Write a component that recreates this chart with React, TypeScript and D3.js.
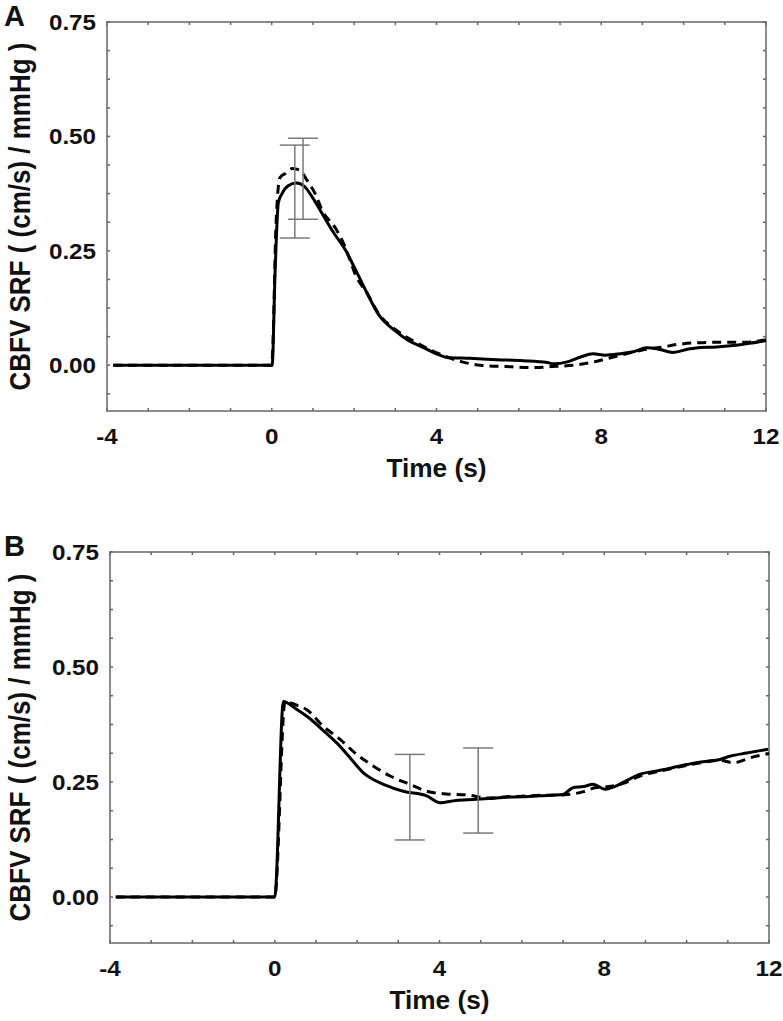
import React from "react";
import * as d3 from "d3";

// ---------- Data ----------
const xTickValues = [-4, 0, 4, 8, 12];
const yTickValues = [0.0, 0.25, 0.5, 0.75];
const yTickLabels = ["0.00", "0.25", "0.50", "0.75"];
const xTitle = "Time (s)";
const yTitle = "CBFV SRF ( (cm/s) / mmHg )";
const panelLetters = ["A", "B"];

// Panel A
const tA_solid = [-3.85, 0.0, 0.01, 0.08, 0.16, 0.25, 0.4, 0.6, 0.8, 1.0, 1.2, 1.5, 1.8, 2.0, 2.3, 2.6, 3.0, 3.3, 3.67, 4.0, 4.25, 4.8, 5.47, 6.1, 6.69, 6.83, 7.2, 7.5, 7.8, 8.1, 8.45, 8.8, 9.1, 9.4, 9.74, 10.1, 10.4, 10.8, 11.2, 11.6, 12.0];
const vA_solid = [0, 0, 0.0, 0.2, 0.355, 0.375, 0.392, 0.398, 0.39, 0.365, 0.335, 0.29, 0.25, 0.215, 0.16, 0.11, 0.075, 0.055, 0.039, 0.025, 0.017, 0.015, 0.012, 0.01, 0.006, 0.003, 0.008, 0.018, 0.025, 0.022, 0.025, 0.03, 0.038, 0.035, 0.028, 0.035, 0.039, 0.04, 0.043, 0.048, 0.054];
const tA_dash = [-3.85, 0.0, 0.03, 0.1, 0.2, 0.35, 0.5, 0.7, 0.85, 1.07, 1.22, 1.53, 1.74, 1.9, 2.02, 2.3, 2.6, 3.0, 3.3, 3.6, 4.2, 4.6, 5.06, 5.7, 6.35, 6.8, 7.3, 7.7, 8.3, 9.0, 9.5, 9.9, 10.7, 11.5, 12.0];
const vA_dash = [0, 0, 0.05, 0.3, 0.41, 0.42, 0.43, 0.425, 0.405, 0.372, 0.339, 0.302, 0.267, 0.23, 0.2, 0.16, 0.112, 0.078, 0.06, 0.045, 0.02, 0.008, 0.0, -0.003, -0.005, -0.003, 0.0, 0.005, 0.018, 0.033, 0.04, 0.046, 0.05, 0.05, 0.056];
const errA_t = [0.56, 0.76];
const errA_lo = [0.278, 0.319];
const errA_hi = [0.481, 0.496];

// Panel B
const tB_solid = [-3.86, 0.0, 0.21, 0.5, 0.78, 1.2, 1.58, 1.9, 2.15, 2.4, 2.64, 3.12, 3.69, 4.01, 4.4, 4.82, 5.2, 5.63, 6.0, 6.44, 7.0, 7.25, 7.5, 7.73, 8.02, 8.25, 8.46, 8.87, 9.27, 9.6, 9.84, 10.24, 10.5, 10.81, 11.05, 11.46, 11.98];
const vB_solid = [0, 0, 0.425, 0.41, 0.393, 0.36, 0.328, 0.295, 0.27, 0.255, 0.245, 0.23, 0.22, 0.205, 0.21, 0.212, 0.214, 0.217, 0.218, 0.22, 0.223, 0.238, 0.24, 0.245, 0.234, 0.24, 0.249, 0.267, 0.274, 0.28, 0.285, 0.292, 0.295, 0.299, 0.306, 0.313, 0.321];
const tB_dash = [-3.86, 0.0, 0.25, 0.5, 0.78, 1.18, 1.58, 1.99, 2.39, 2.8, 3.28, 3.69, 4.17, 4.66, 5.2, 5.63, 6.0, 6.44, 7.0, 7.5, 7.8, 8.1, 8.46, 8.87, 9.27, 9.84, 10.24, 10.81, 11.13, 11.6, 12.0];
const vB_dash = [0, 0, 0.425, 0.418, 0.407, 0.371, 0.343, 0.31, 0.285, 0.263, 0.245, 0.23, 0.224, 0.222, 0.215, 0.218, 0.219, 0.221, 0.222, 0.229, 0.238, 0.24, 0.247, 0.263, 0.272, 0.283, 0.29, 0.297, 0.292, 0.304, 0.312];
const errB_t = [3.28, 4.94];
const errB_lo = [0.124, 0.139];
const errB_hi = [0.31, 0.324];

const xDomain = [-4, 12];
const yDomain = [-0.1, 0.75];

const FONT = "'Liberation Sans', Arial, Helvetica, sans-serif";

type PanelProps = {
  letter: string;
  left: number;
  right: number;
  top: number;
  bottom: number;
  tSolid: number[];
  vSolid: number[];
  tDash: number[];
  vDash: number[];
  eT: number[];
  eLo: number[];
  eHi: number[];
};

function Panel(p: PanelProps) {
  const x = d3.scaleLinear().domain(xDomain).range([p.left, p.right]);
  const y = d3.scaleLinear().domain(yDomain).range([p.bottom, p.top]);
  const line = d3
    .line<[number, number]>()
    .x((d) => x(d[0]))
    .y((d) => y(d[1]))
    .curve(d3.curveMonotoneX);
  const solid = line(p.tSolid.map((t, i) => [t, p.vSolid[i]] as [number, number])) || "";
  const dash = line(p.tDash.map((t, i) => [t, p.vDash[i]] as [number, number])) || "";

  const xMinor = d3.range(-4, 12.001, 1);
  const yMinor = d3.range(0.75, -0.1, -0.0625);
  const tl = 3;
  const tickColor = "#666";
  const midY = (p.top + p.bottom) / 2;
  const midX = (p.left + p.right) / 2;

  return (
    <g>
      <text x={4} y={p.top + 4} fontFamily={FONT} fontWeight="bold" fontSize={29} fill="#111">
        {p.letter}
      </text>
      {/* frame */}
      <rect
        x={p.left}
        y={p.top}
        width={p.right - p.left}
        height={p.bottom - p.top}
        fill="none"
        stroke="#8c8c8c"
        strokeWidth={2}
      />
      {/* ticks */}
      {xMinor.map((t, i) => (
        <g key={"xt" + i}>
          <line x1={x(t)} x2={x(t)} y1={p.bottom} y2={p.bottom - tl} stroke={tickColor} strokeWidth={1.5} />
          <line x1={x(t)} x2={x(t)} y1={p.top} y2={p.top + tl} stroke={tickColor} strokeWidth={1.5} />
        </g>
      ))}
      {yMinor.map((v, i) => (
        <g key={"yt" + i}>
          <line x1={p.left} x2={p.left + tl} y1={y(v)} y2={y(v)} stroke={tickColor} strokeWidth={1.5} />
          <line x1={p.right} x2={p.right - tl} y1={y(v)} y2={y(v)} stroke={tickColor} strokeWidth={1.5} />
        </g>
      ))}
      {/* tick labels */}
      {xTickValues.map((t, i) => (
        <g key={"xl" + i} transform={`translate(${x(t)},${p.bottom + 33}) scale(1.1,1)`}>
          <text textAnchor="middle" fontFamily={FONT} fontWeight="bold" fontSize={22} fill="#111">
            {String(t)}
          </text>
        </g>
      ))}
      {yTickValues.map((v, i) => (
        <g key={"yl" + i} transform={`translate(${p.left - 11},${y(v) + 8}) scale(1.1,1)`}>
          <text textAnchor="end" fontFamily={FONT} fontWeight="bold" fontSize={22} fill="#111">
            {yTickLabels[i]}
          </text>
        </g>
      ))}
      {/* axis titles */}
      <g transform={`translate(${midX},${p.bottom + 66}) scale(1.05,1)`}>
        <text textAnchor="middle" fontFamily={FONT} fontWeight="bold" fontSize={25} fill="#111">
          {xTitle}
        </text>
      </g>
      <g transform={`translate(30,${midY}) scale(1.15,1) rotate(-90)`}>
        <text textAnchor="middle" fontFamily={FONT} fontWeight="bold" fontSize={26} fill="#111">
          {yTitle}
        </text>
      </g>
      {/* curves */}
      <path d={solid} fill="none" stroke="#000" strokeWidth={3} strokeLinejoin="round" />
      <path d={dash} fill="none" stroke="#000" strokeWidth={3} strokeDasharray="9,6" />
      {/* error bars */}
      {p.eT.map((t, i) => (
        <g key={"eb" + i} stroke="#7a7a7a" strokeWidth={1.5}>
          <line x1={x(t)} x2={x(t)} y1={y(p.eLo[i])} y2={y(p.eHi[i])} />
          <line x1={x(t) - 15} x2={x(t) + 15} y1={y(p.eLo[i])} y2={y(p.eLo[i])} />
          <line x1={x(t) - 15} x2={x(t) + 15} y1={y(p.eHi[i])} y2={y(p.eHi[i])} />
        </g>
      ))}
    </g>
  );
}

export default function App() {
  return (
    <svg
      width={783}
      height={1021}
      style={{ position: "absolute", left: 0, top: 0, background: "#fff" }}
    >
      <rect x={0} y={0} width={783} height={1021} fill="#fff" />
      <Panel
        letter={panelLetters[0]}
        left={107}
        right={766}
        top={22}
        bottom={411}
        tSolid={tA_solid}
        vSolid={vA_solid}
        tDash={tA_dash}
        vDash={vA_dash}
        eT={errA_t}
        eLo={errA_lo}
        eHi={errA_hi}
      />
      <Panel
        letter={panelLetters[1]}
        left={110}
        right={769}
        top={552}
        bottom={943}
        tSolid={tB_solid}
        vSolid={vB_solid}
        tDash={tB_dash}
        vDash={vB_dash}
        eT={errB_t}
        eLo={errB_lo}
        eHi={errB_hi}
      />
    </svg>
  );
}
